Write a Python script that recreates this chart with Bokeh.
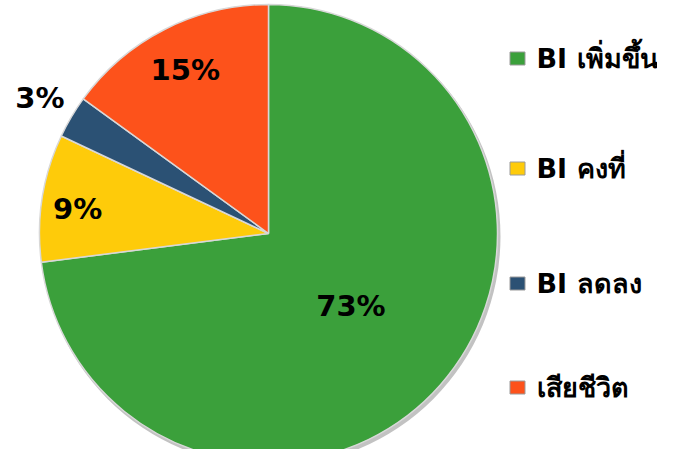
import math
from bokeh.plotting import figure
from bokeh.models import Range1d
from bokeh.core.properties import value
from bokeh.embed import file_html
from bokeh.resources import INLINE

categories = ["BI เพิ่มขึ้น", "BI คงที่", "BI ลดลง", "เสียชีวิต"]
values = [73, 9, 3, 15]
labels = ["73%", "9%", "3%", "15%"]
colors = ["#3BA03B", "#FECB0A", "#2B5174", "#FD521B"]

W, H = 657, 449
p = figure(width=W, height=H, output_backend="svg", toolbar_location=None,
           x_range=Range1d(0, W), y_range=Range1d(465 - H, 465),
           min_border=0)
p.axis.visible = False
p.grid.visible = False
p.outline_line_color = None
p.background_fill_color = "white"

cx, cy, r = 268, 465 - 233, 229

total = sum(values)
starts, ends = [], []
cum = 0.0
for v in values:
    a0 = math.pi / 2 - 2 * math.pi * cum / total
    cum += v
    a1 = math.pi / 2 - 2 * math.pi * cum / total
    starts.append(a0)
    ends.append(a1)

# shadow
p.circle(x=[cx + 2], y=[cy - 3], radius=r + 1, fill_color="#9a9a9a", fill_alpha=0.6, line_color=None)
p.wedge(x=cx, y=cy, radius=r, start_angle=starts, end_angle=ends, direction="clock",
        fill_color=colors, line_color="#d8d8d8", line_width=1.5)

# label positions (fraction of radius, offset of angle from slice middle in radians)
label_rad = [0.48, 0.84, 1.16, 0.80]
label_turn = [0.0, 0.03, 0.0, 0.0]
lx, ly = [], []
for i in range(len(values)):
    mid = (starts[i] + ends[i]) / 2 + label_turn[i]
    lx.append(cx + label_rad[i] * r * math.cos(mid))
    ly.append(cy + label_rad[i] * r * math.sin(mid))
p.text(x=lx, y=ly, text=labels, text_font=value("DejaVu Sans"), text_font_style="bold",
       text_font_size="29px", text_align="center", text_baseline="middle", text_color="black")

# legend
leg_y = [465 - 58, 465 - 168, 465 - 283, 465 - 387]
p.rect(x=[517] * 4, y=leg_y, width=15, height=13, fill_color=colors, line_color="#9a9a9a", line_width=1)
p.text(x=[536] * 4, y=leg_y, text=categories, text_font=value("DejaVu Sans"), text_font_style="bold",
       text_font_size="27px", text_align="left", text_baseline="middle", text_color="black")

open("out.html", "w").write(file_html(p, INLINE))
